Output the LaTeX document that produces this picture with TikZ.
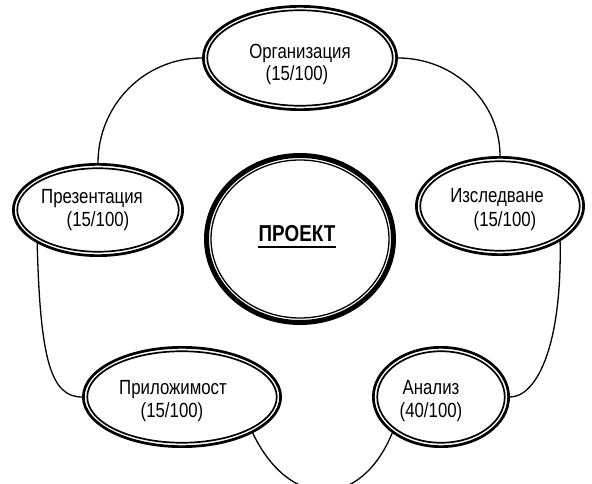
\documentclass[tikz,border=0pt]{standalone}
\usepackage{fontspec}
\setmainfont{Liberation Sans}[FakeStretch=0.82]
\usetikzlibrary{shapes.geometric}
\begin{document}
\begin{tikzpicture}[x=1pt,y=-1pt,
  lbl/.style={anchor=base, inner sep=0pt, font=\fontsize{20.5}{23}\selectfont},
  ringnode/.style={ellipse, draw, line width=2.7pt, inner sep=0pt},
  innerring/.style={line width=1.7pt},
  link/.style={line width=1.3pt}]
\useasboundingbox (0,0) rectangle (592,484);
\clip (0,0) rectangle (592,484);

% centre
\node[ellipse, draw, line width=5pt, inner sep=0pt, minimum width=187pt, minimum height=167pt] (proj) at (300,239) {};
\draw[line width=1.3pt] (proj.center) ellipse [x radius=89pt, y radius=79pt];
\node[anchor=base, inner sep=0pt, font=\fontsize{23}{26}\selectfont\bfseries] (tproj) at (297,241) {ПРОЕКТ};
\draw[line width=1.5pt] ([yshift=-6pt]tproj.base west) -- ([yshift=-6pt]tproj.base east);

% ring nodes
\node[ringnode, minimum width=193.3pt, minimum height=103.3pt] (org) at (300,58) {};
\draw[innerring] (org.center) ellipse [x radius=92.75pt, y radius=47.75pt];
\node[ringnode, minimum width=169.3pt, minimum height=91.3pt] (pres) at (98,210) {};
\draw[innerring] (pres.center) ellipse [x radius=80.75pt, y radius=41.75pt];
\node[ringnode, minimum width=167.3pt, minimum height=97.3pt] (izsl) at (500,206) {};
\draw[innerring] (izsl.center) ellipse [x radius=79.75pt, y radius=44.75pt];
\node[ringnode, minimum width=197.3pt, minimum height=99.3pt] (pril) at (182,397) {};
\draw[innerring] (pril.center) ellipse [x radius=94.75pt, y radius=45.75pt];
\node[ringnode, minimum width=135.3pt, minimum height=99.3pt] (anal) at (441,397) {};
\draw[innerring] (anal.center) ellipse [x radius=63.75pt, y radius=45.75pt];

% labels
\node[lbl] (torg1) at (300,59) {Организация};
\node[lbl] (torg2) at (297,81) {(15/100)};
\node[lbl] (tpres1) at (92,204) {Презентация};
\node[lbl] (tpres2) at (98,226) {(15/100)};
\node[lbl] (tizsl1) at (497,203) {Изследване};
\node[lbl] (tizsl2) at (505,226) {(15/100)};
\node[lbl] (tpril1) at (173,394) {Приложимост};
\node[lbl] (tpril2) at (172,417) {(15/100)};
\node[lbl] (tanal1) at (431,394) {Анализ};
\node[lbl] (tanal2) at (431,417) {(40/100)};

% connectors
\draw[link] (org.west) to[out=180,in=90] (pres.north);
\draw[link] (org.east) to[out=0,in=90] (izsl.north);
\draw[link] (pres.south west) .. controls +(3,117) and +(-31,0) .. (pril.west);
\draw[link] (izsl.south east) .. controls +(2,109) and +(25,0) .. (anal.east);
\draw[link] (pril.south east) .. controls +(37,77) and +(-32,77) .. (anal.south west);
\end{tikzpicture}
\end{document}
